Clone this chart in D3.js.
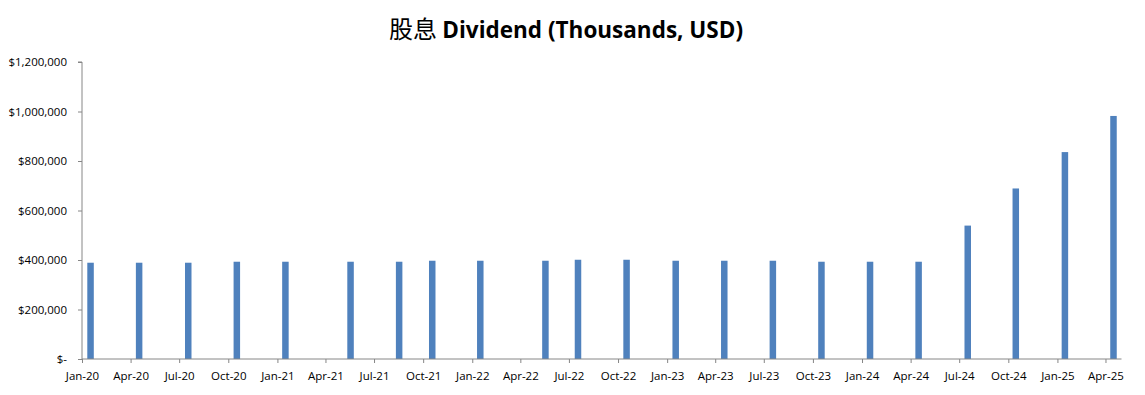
<!doctype html>
<html>
  <head>
    <meta charset="utf-8">
    <title>股息 Dividend</title>
    <script src="https://cdnjs.cloudflare.com/ajax/libs/d3/7.8.5/d3.min.js"></script>
    <style>
      body { margin: 0; background: #fff; }
      svg text { font-family: "Open Sans", "Noto Sans", sans-serif; }
    </style>
  </head>
  <body>
    <div id="chart"></div>
    <script>
      // payment dates and dividend amounts (USD, as shown on the axis)
      const payDates = [
        '2020-01-17', '2020-04-17', '2020-07-18', '2020-10-17',
        '2021-01-16', '2021-05-18', '2021-08-17', '2021-10-18',
        '2022-01-16', '2022-05-18', '2022-07-18', '2022-10-17',
        '2023-01-17', '2023-04-18', '2023-07-18', '2023-10-17',
        '2024-01-16', '2024-04-16', '2024-07-17', '2024-10-15',
        '2025-01-15', '2025-04-16'
      ];
      const dividends = [
        389000, 389000, 389000, 393000,
        393000, 393000, 393000, 397000,
        397000, 397000, 401000, 401000,
        397000, 397000, 397000, 393000,
        393000, 393000, 539000, 689000,
        836000, 982000
      ];
      const yTicks = [0, 200000, 400000, 600000, 800000, 1000000, 1200000];

      const W = 1145, H = 395;
      const margin = { top: 62, right: 23.5, bottom: 36, left: 82 };
      const parse = d3.timeParse('%Y-%m-%d');
      const data = payDates.map((d, i) => ({ date: parse(d), value: dividends[i] }));

      const svg = d3.select('#chart').append('svg')
        .attr('width', W).attr('height', H);

      const x = d3.scaleTime()
        .domain([new Date(2020, 0, 1), new Date(2025, 4, 1)])
        .range([margin.left, W - margin.right]);
      const y = d3.scaleLinear()
        .domain([0, 1200000])
        .range([H - margin.bottom, margin.top]);

      const fmt = d3.format('$,');
      const axisColor = '#868686';

      // bars
      const barW = 6.5;
      svg.selectAll('rect.bar')
        .data(data)
        .join('rect')
        .attr('class', 'bar')
        .attr('x', d => x(d.date) - barW / 2)
        .attr('y', d => y(d.value))
        .attr('width', barW)
        .attr('height', d => y(0) - y(d.value))
        .attr('fill', '#4F81BD');

      // y axis
      const yAxis = svg.append('g')
        .attr('transform', `translate(${margin.left},0)`)
        .call(d3.axisLeft(y).tickValues(yTicks).tickSize(4).tickPadding(11)
          .tickFormat(d => d === 0 ? '$-' : fmt(d)));
      yAxis.selectAll('text').attr('font-size', 11.5).attr('fill', '#000');

      // x axis
      const xTicks = d3.timeMonth.every(3).range(new Date(2020, 0, 1), new Date(2025, 4, 2));
      const xAxis = svg.append('g')
        .attr('transform', `translate(0,${y(0)})`)
        .call(d3.axisBottom(x).tickValues(xTicks).tickSize(4).tickPadding(9)
          .tickFormat(d3.timeFormat('%b-%y')));
      xAxis.selectAll('text').attr('font-size', 11.5).attr('fill', '#000');

      svg.selectAll('.domain').attr('stroke', axisColor);
      svg.selectAll('.tick line').attr('stroke', axisColor);
      yAxis.select('.domain').attr('d', `M-4,${y(1200000)}H0V${y(0)}`);
      xAxis.select('.domain').attr('d', `M${x.range()[0]},0H${x.range()[1]}`);

      // title
      const title = svg.append('text')
        .attr('x', 566).attr('y', 38)
        .attr('text-anchor', 'middle')
        .attr('fill', '#000');
      title.append('tspan')
        .style('font-family', '"Noto Sans CJK SC", sans-serif')
        .attr('font-size', 24)
        .text('股息 ');
      title.append('tspan')
        .attr('font-weight', 'bold')
        .attr('font-size', 22.5)
        .text('Dividend (Thousands, USD)');
    </script>
  </body>
</html>
